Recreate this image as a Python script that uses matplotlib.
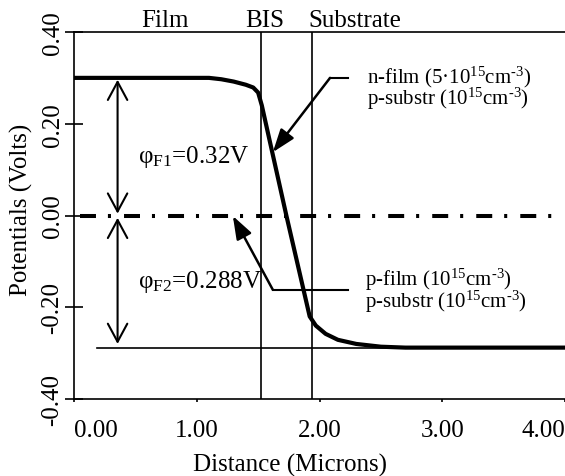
import matplotlib
matplotlib.use("Agg")
import matplotlib.pyplot as plt
import matplotlib.transforms as mtransforms

# potential profile across the film / buried interface / substrate
dist = [0.0, 1.10, 1.20, 1.30, 1.40, 1.46, 1.50, 1.53, 1.73, 1.92,
        1.97, 2.05, 2.15, 2.30, 2.50, 2.70, 4.00]
potential = [0.300, 0.300, 0.297, 0.292, 0.285, 0.279, 0.268, 0.240, 0.000, -0.220,
             -0.240, -0.258, -0.271, -0.280, -0.286, -0.288, -0.288]

bis_x = 1.52
substrate_x = 1.94
phi_f1 = 0.32
phi_f2 = 0.288
fermi_top = 0.300
fermi_bottom = -0.288

region_labels = ["Film", "BIS", "Substrate"]
region_x = [0.74, 1.55, 2.29]

xticks = [0.0, 1.0, 2.0, 3.0, 4.0]
xtick_labels = ["0.00", "1.00", "2.00", "3.00", "4.00"]
yticks = [0.4, 0.2, 0.0, -0.2, -0.4]
ytick_labels = ["0.40", "0.20", "0.00", "-0.20", "-0.40"]

plt.rcParams["font.family"] = ["Liberation Serif", "DejaVu Serif"]
plt.rcParams["mathtext.fontset"] = "custom"
plt.rcParams["mathtext.rm"] = "Liberation Serif"
plt.rcParams["mathtext.it"] = "Liberation Serif:italic"
plt.rcParams["mathtext.bf"] = "Liberation Serif:bold"
plt.rcParams["lines.scale_dashes"] = False

FS = 18
FS_NOTE = 15

fig = plt.figure(figsize=(5.65, 4.77), dpi=100)
ax = fig.add_axes([74 / 565, 1 - 400 / 477, 491 / 565, 367 / 477])

ax.set_xlim(0, 4.0)
ax.set_ylim(-0.4, 0.4)

# potential curve
ax.plot(dist, potential, color="black", lw=3.0, solid_joinstyle="round", zorder=4)

# boundaries
ax.axvline(bis_x, color="black", lw=1.2)
ax.axvline(substrate_x, color="black", lw=1.2)

# zero line (dash-dot) and substrate fermi level
ax.plot([0.045, 3.90], [0.0, 0.0], color="black", lw=2.9,
        dashes=(11.5, 8.6, 2.2, 9.4), solid_capstyle="butt", dash_capstyle="butt")
ax.plot([0.19, 4.0], [fermi_bottom, fermi_bottom], color="black", lw=1.2)

# double arrows for phi_F1 and phi_F2
arrow_kw = dict(arrowstyle="<->,head_length=1.3,head_width=0.7",
                mutation_scale=10, lw=1.5, color="black", shrinkA=0, shrinkB=0)
ax.annotate("", xy=(0.355, 0.004), xytext=(0.355, fermi_top - 0.004), arrowprops=arrow_kw)
ax.annotate("", xy=(0.355, fermi_bottom + 0.008), xytext=(0.355, -0.005), arrowprops=arrow_kw)

ax.text(0.52, 0.13, r"φ$_{\rm F1}$=%.2fV" % phi_f1, fontsize=FS, va="center", ha="left")
ax.text(0.52, -0.143, r"φ$_{\rm F2}$=%.3fV" % phi_f2, fontsize=FS, va="center", ha="left")

# pointer arrows
ptr_kw = dict(arrowstyle="-|>,head_length=1.4,head_width=0.5",
              mutation_scale=10, lw=1.8, color="black", shrinkA=0, shrinkB=0)

# annotation 1: n-film / p-substr
ax.plot([2.086, 2.233], [0.300, 0.300], color="black", lw=1.5)
ax.annotate("", xy=(1.62, 0.138), xytext=(2.086, 0.300), arrowprops=ptr_kw)
ax.text(2.39, 0.291, r"n-film (5·10$^{15}$cm$^{\text{-3}}$)", fontsize=FS_NOTE,
        va="baseline", ha="left")
ax.text(2.39, 0.243, r"p-substr (10$^{15}$cm$^{\text{-3}}$)", fontsize=FS_NOTE,
        va="baseline", ha="left")

# annotation 2: p-film / p-substr
ax.plot([1.62, 2.233], [-0.162, -0.162], color="black", lw=1.5)
ax.annotate("", xy=(1.294, -0.001), xytext=(1.62, -0.162), arrowprops=ptr_kw)
ax.text(2.37, -0.151, r"p-film (10$^{15}$cm$^{\text{-3}}$)", fontsize=FS_NOTE,
        va="baseline", ha="left")
ax.text(2.37, -0.199, r"p-substr (10$^{15}$cm$^{\text{-3}}$)", fontsize=FS_NOTE,
        va="baseline", ha="left")

# region labels above the axes
trans = mtransforms.blended_transform_factory(ax.transData, ax.transAxes)
for lab, xp in zip(region_labels, region_x):
    ax.text(xp, 1.016, lab, fontsize=FS, ha="center", va="baseline", transform=trans)

# axes styling
ax.spines["right"].set_visible(False)
for s in ["left", "bottom", "top"]:
    ax.spines[s].set_linewidth(1.2)

ax.set_xticks(xticks, xtick_labels)
ax.set_yticks(yticks, ytick_labels)
ax.tick_params(axis="x", direction="out", length=2.5, width=1.2, labelsize=FS, pad=12)
ax.tick_params(axis="y", direction="inout", length=13, width=1.2, labelsize=FS,
               pad=1, labelrotation=90)
for lab in ax.get_yticklabels():
    lab.set_va("center")
xl = ax.get_xticklabels()
xl[0].set_ha("left")
xl[-1].set_ha("right")

fig.text(21 / 565, 1 - 210 / 477, "Potentials (Volts)", fontsize=FS, rotation=90,
         ha="center", va="center")
fig.text(290 / 565, 1 - 472 / 477, "Distance (Microns)", fontsize=FS,
         ha="center", va="baseline")

fig.savefig("out.png", dpi=100)
